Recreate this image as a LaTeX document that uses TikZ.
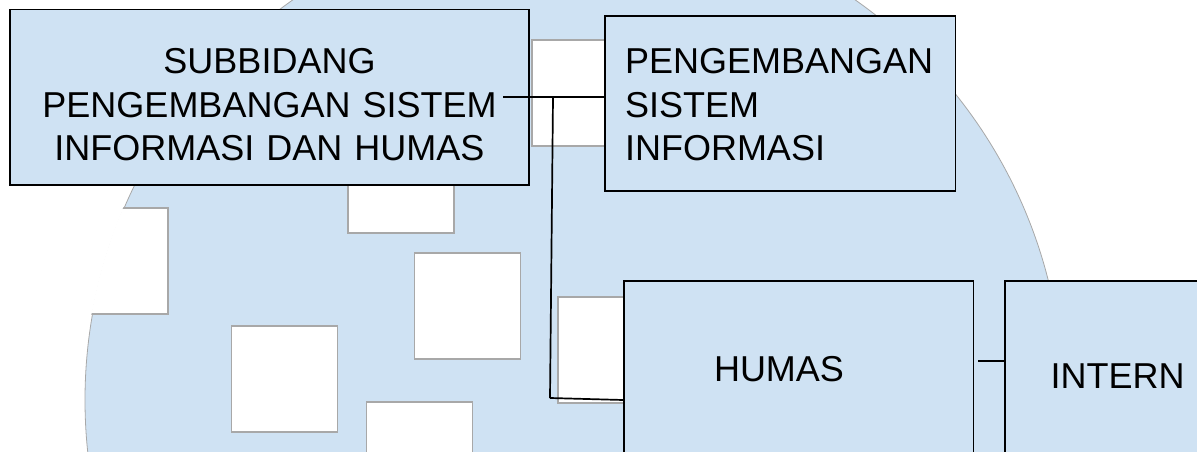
\documentclass[tikz,border=0pt]{standalone}
\usepackage{fontspec}
\setmainfont{Liberation Sans}
\usepackage{tikz}
\usetikzlibrary{calc}
\definecolor{birumuda}{HTML}{CFE2F3}
\definecolor{abu}{HTML}{A8A8A8}

\begin{document}
\begin{tikzpicture}[x=1pt, y=-1pt,
  kotak/.style={draw=black, line width=1.7pt, fill=birumuda, inner ysep=0pt,
    font=\fontsize{36}{43.5}\selectfont},
  ubin/.style={fill=white, draw=abu, line width=1.2pt},
  garis/.style={line width=1.7pt}]
  \useasboundingbox (0,0) rectangle (1197,452);
  \clip (0,0) rectangle (1197,452);
  % latar: lingkaran dengan ubin putih
  \filldraw[fill=birumuda, draw=abu, line width=0.8pt] (574,400) circle (489pt);
  \begin{scope}
    \clip (574,400) circle (490pt);
    \foreach \px/\py in {532/40, 348/127, 414.5/253, 231.5/326, 366.5/402, 558/297, 62/208}
      \filldraw[ubin] (\px,\py) rectangle ++(106,106);
  \end{scope}
  % kotak
  \node[kotak, minimum width=519pt, minimum height=175.5pt, text width=489pt,
    align=center, text height=40pt] (subbid) at (269.5,97.25)
    {SUBBIDANG\\PENGEMBANGAN SISTEM\\INFORMASI DAN HUMAS};
  \node[kotak, minimum height=175pt, inner xsep=20pt, text width=310.5pt,
    align=left, text height=28pt] (peng) at (780.25,103.5) {PENGEMBANGAN\\SISTEM\\INFORMASI};
  \node[kotak, minimum height=176pt, inner xsep=90pt, text width=169.5pt,
    align=left] (hum) at (798.75,369) {HUMAS};
  \node[kotak, minimum height=190pt, inner xsep=45.5pt, text width=164pt,
    align=left] (intern) at (1132.5,376) {INTERN};
  % garis penghubung
  \coordinate (a1) at (503,97);
  \coordinate (a2) at (553,98);
  \coordinate (a3) at (550,398);
  \coordinate (a4) at (978,361);
  \draw[garis] (a1) -- (a1 -| peng.west);
  \draw[garis] (a2) -- (a3);
  \draw[garis] (a3) -- ([yshift=-2pt]a3 -| hum.west);
  \draw[garis] (a4) -- (a4 -| intern.west);
\end{tikzpicture}
\end{document}
